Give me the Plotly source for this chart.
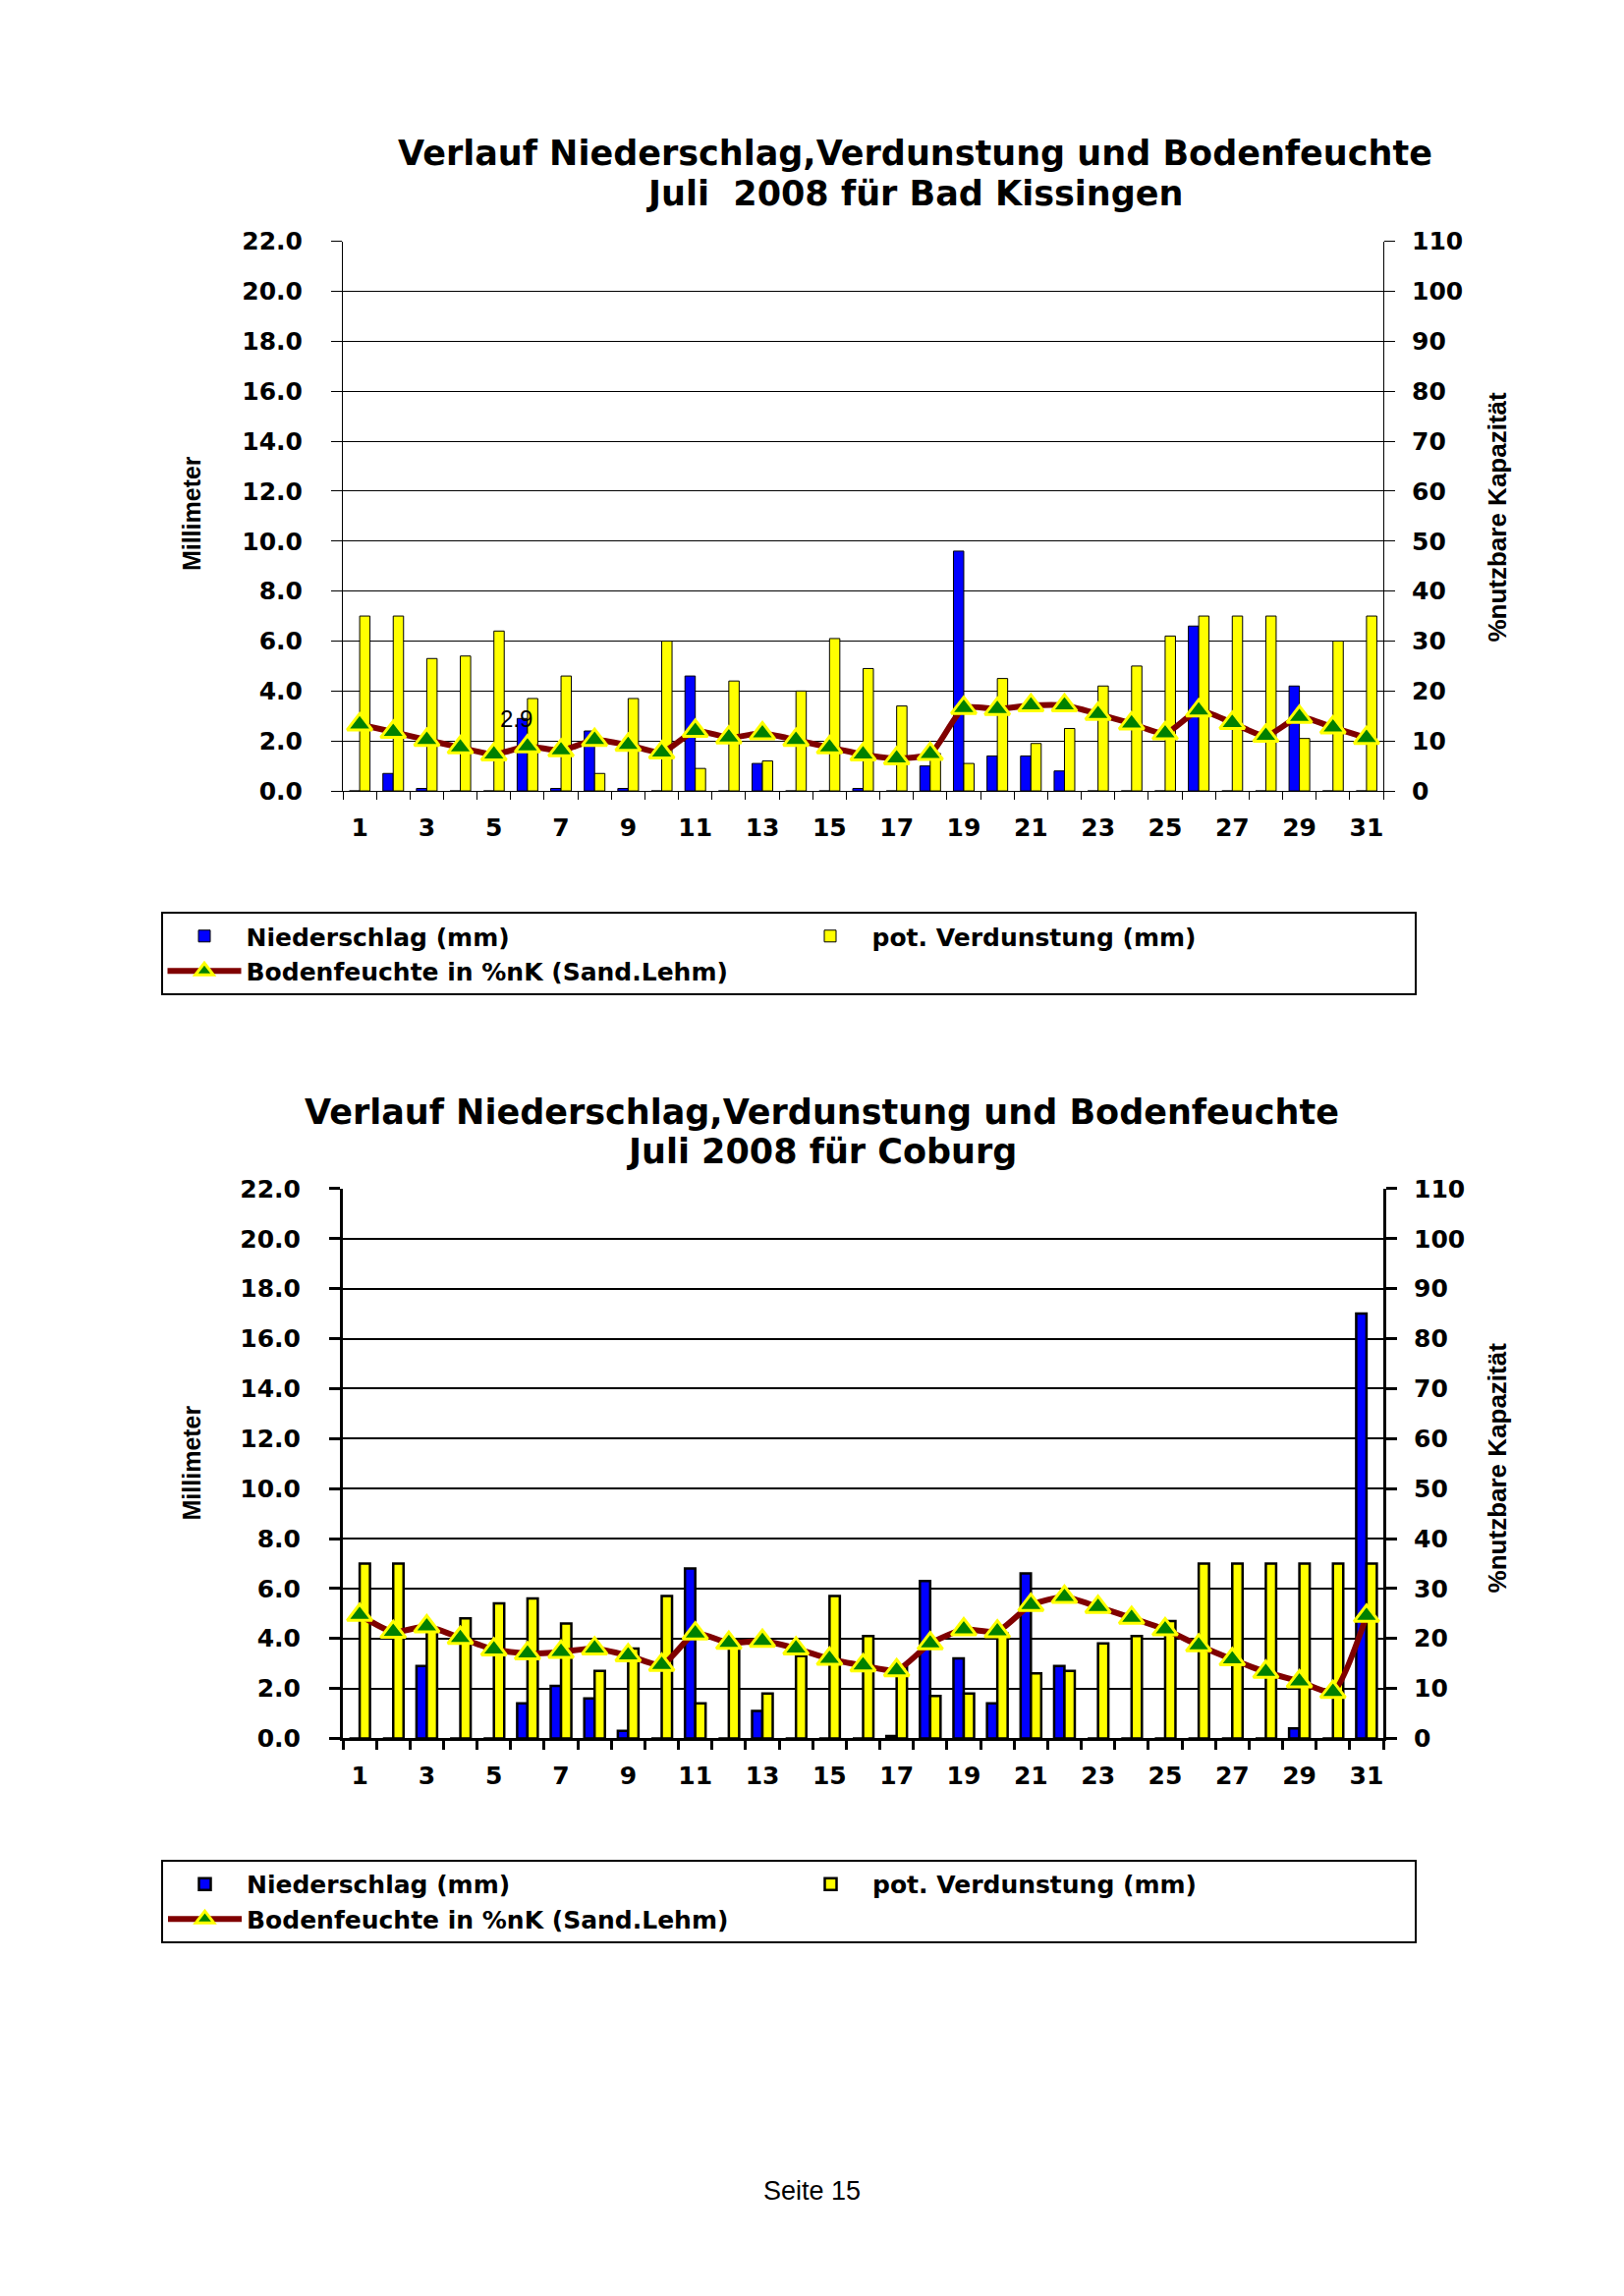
import plotly.graph_objects as go

# ---------------- data ----------------
days = list(range(1, 32))
tick_days = list(range(1, 32, 2))
tick_labels = [str(d) for d in tick_days]
boundaries = [d + 0.5 for d in range(0, 32)]
mm_ticks = list(range(0, 23, 2))
mm_labels = [f"{v:.1f}" for v in mm_ticks]
pct_ticks = list(range(0, 111, 10))
pct_labels = [str(v) for v in pct_ticks]

# Bad Kissingen
bk_nieder = [0, 0.7, 0.1, 0, 0, 2.9, 0.1, 2.4, 0.1, 0, 4.6, 0, 1.1, 0, 0, 0.1,
             0, 1.0, 9.6, 1.4, 1.4, 0.8, 0, 0, 0, 6.6, 0, 0, 4.2, 0, 0]
bk_verd = [7.0, 7.0, 5.3, 5.4, 6.4, 3.7, 4.6, 0.7, 3.7, 6.0, 0.9, 4.4, 1.2, 4.0, 6.1, 4.9,
           3.4, 1.5, 1.1, 4.5, 1.9, 2.5, 4.2, 5.0, 6.2, 7.0, 7.0, 7.0, 2.1, 6.0, 7.0]
bk_boden = [13.3, 11.8, 10.2, 8.7, 7.3, 8.9, 8.1, 10.2, 9.2, 7.7, 12.0, 10.7, 11.5, 10.2, 8.7, 7.3,
            6.5, 7.4, 16.6, 16.4, 17.1, 17.1, 15.4, 13.5, 11.5, 16.1, 13.6, 11.0, 14.8, 12.7, 10.6]
bk_label_day = 6
bk_label_text = "2.9"

# Coburg
co_nieder = [0, 0, 2.9, 0, 0, 1.4, 2.1, 1.6, 0.3, 0, 6.8, 0, 1.1, 0, 0, 0,
             0.1, 6.3, 3.2, 1.4, 6.6, 2.9, 0, 0, 0, 0, 0, 0, 0.4, 0, 17.0]
co_verd = [7.0, 7.0, 4.3, 4.8, 5.4, 5.6, 4.6, 2.7, 3.6, 5.7, 1.4, 3.8, 1.8, 3.3, 5.7, 4.1,
           2.9, 1.7, 1.8, 4.2, 2.6, 2.7, 3.8, 4.1, 4.7, 7.0, 7.0, 7.0, 7.0, 7.0, 7.0]
co_boden = [24.7, 21.3, 22.4, 20.1, 17.8, 17.0, 17.3, 18.0, 16.6, 14.7, 21.0, 19.1, 19.5, 18.0, 15.9, 14.6,
            13.6, 19.0, 21.8, 21.4, 26.7, 28.3, 26.3, 24.1, 21.8, 18.6, 15.8, 13.3, 11.4, 9.3, 24.5]

name_n = "Niederschlag (mm)"
name_v = "pot. Verdunstung (mm)"
name_b = "Bodenfeuchte in %nK (Sand.Lehm)"

# ---------------- layout helpers ----------------
W, H = 1653, 2337
def px(x):
    return x / W
def py(y):
    return 1 - y / H

BLUE = "#0000FF"
YELLOW = "#FFFF00"
DARKRED = "#800000"
GREEN = "#008000"
TICKFONT = dict(family="DejaVu Sans", size=25, color="black", weight="bold")
LEGFONT = dict(family="DejaVu Sans", size=25, color="black", weight="bold")

fig = go.Figure()

def add_chart(nieder, verd, boden, xa, ya, ya2, legend, olw):
    fig.add_trace(go.Bar(x=days, y=nieder, name=name_n, xaxis=xa, yaxis=ya, legend=legend,
                         marker=dict(color=BLUE, line=dict(color="black", width=olw))))
    fig.add_trace(go.Bar(x=days, y=verd, name=name_v, xaxis=xa, yaxis=ya, legend=legend,
                         marker=dict(color=YELLOW, line=dict(color="black", width=olw))))
    fig.add_trace(go.Scatter(x=days, y=boden, name=name_b, xaxis=xa, yaxis=ya2, legend=legend,
                             mode="lines+markers",
                             line=dict(color=DARKRED, width=6, shape="spline", smoothing=0.6),
                             marker=dict(symbol="triangle-up", size=22, color=GREEN,
                                         line=dict(color=YELLOW, width=3))))

add_chart(bk_nieder, bk_verd, bk_boden, "x", "y", "y2", "legend", 1)
add_chart(co_nieder, co_verd, co_boden, "x2", "y3", "y4", "legend2", 2.5)

xdom = [px(349), px(1408)]
top_dom = [py(801), py(234.5)]
bot_dom = [py(1777.5), py(1211)]

def xaxis_cfg(anchor, lw, tl, standoff):
    return dict(domain=xdom, anchor=anchor, range=[0.5, 31.5], tickmode="array",
                tickvals=tick_days, ticktext=tick_labels, ticks="", showgrid=False,
                showline=True, linecolor="black", linewidth=lw, zeroline=False,
                tickfont=TICKFONT, ticklabelstandoff=standoff,
                minor=dict(tickmode="array", tickvals=boundaries, ticks="outside",
                           ticklen=tl, tickwidth=lw, tickcolor="black", showgrid=False))

def xinside_cfg(over, anchor, lw, tl):
    # companion axis: the inner half of the crossing day ticks
    return dict(overlaying=over, anchor=anchor, domain=xdom, range=[0.5, 31.5],
                tickmode="array", tickvals=boundaries, ticks="inside", ticklen=tl,
                tickwidth=lw, tickcolor="black", showticklabels=False, showline=False,
                showgrid=False, zeroline=False)

def yleft_cfg(dom, anchor, lw, gw):
    return dict(domain=dom, anchor=anchor, range=[0, 22], tickmode="array",
                tickvals=mm_ticks, ticktext=mm_labels, ticks="outside", ticklen=11,
                tickwidth=lw, tickcolor="black", showline=True, linecolor="black",
                linewidth=lw, showgrid=True, gridcolor="black", gridwidth=gw,
                zeroline=False, tickfont=TICKFONT, ticklabelstandoff=24)

def yright_cfg(over, anchor, lw):
    return dict(overlaying=over, anchor=anchor, side="right", range=[0, 110], tickmode="array",
                tickvals=pct_ticks, ticktext=pct_labels, ticks="outside", ticklen=11,
                tickwidth=lw, tickcolor="black", showline=True, linecolor="black",
                linewidth=lw, showgrid=False, zeroline=False, tickfont=TICKFONT,
                ticklabelstandoff=12)

def yinside_cfg(over, anchor, side, rng, vals, lw):
    return dict(overlaying=over, anchor=anchor, side=side, range=rng, tickmode="array",
                tickvals=vals, ticks="inside", ticklen=11, tickwidth=lw, tickcolor="black",
                showticklabels=False, showline=False, showgrid=False, zeroline=False)

def legend_cfg(x0, y0):
    return dict(x=px(x0), y=py(y0), xanchor="left", yanchor="top", orientation="h",
                entrywidth=547, entrywidthmode="pixels", itemwidth=75,
                bordercolor="black", borderwidth=2, bgcolor="white", font=LEGFONT,
                traceorder="normal")

annotations = []
def title(lines, xc, ys):
    for t, y in zip(lines, ys):
        annotations.append(dict(text=t, x=px(xc), y=py(y), xref="paper", yref="paper",
                                xanchor="center", yanchor="middle", showarrow=False,
                                font=dict(family="DejaVu Sans", size=35, color="black",
                                          weight="bold")))

title(["Verlauf Niederschlag,Verdunstung und Bodenfeuchte", "Juli  2008 für Bad Kissingen"],
      931, [144, 185])
title(["Verlauf Niederschlag,Verdunstung und Bodenfeuchte", "Juli 2008 für Coburg"],
      836, [1132, 1173])

AXL = dict(family="Liberation Sans", size=25, color="black", weight="bold")
AXR = dict(family="Liberation Sans", size=26, color="black", weight="bold")
for yc_l, yc_r in [(515.5, 519), (1494, 1499)]:
    annotations.append(dict(text="Millimeter", x=px(195), y=py(yc_l), xref="paper", yref="paper",
                            textangle=-90, showarrow=False, xanchor="center", yanchor="middle",
                            font=AXL))
    annotations.append(dict(text="%nutzbare Kapazität", x=px(1524), y=py(yc_r), xref="paper",
                            yref="paper", textangle=-90, showarrow=False, xanchor="center",
                            yanchor="middle", font=AXR))

annotations.append(dict(text=bk_label_text, x=bk_label_day, y=bk_nieder[bk_label_day - 1],
                        xref="x", yref="y", xshift=-11, showarrow=False, xanchor="center",
                        yanchor="middle",
                        font=dict(family="Liberation Sans", size=24, color="black")))

annotations.append(dict(text="Seite 15", x=px(826), y=py(2244), xref="paper", yref="paper",
                        showarrow=False, xanchor="center", yanchor="middle",
                        font=dict(family="Liberation Sans", size=27, color="black")))

fig.update_layout(
    width=W, height=H, autosize=False,
    margin=dict(l=0, r=0, t=0, b=0, pad=0),
    paper_bgcolor="white", plot_bgcolor="white",
    barmode="group", bargap=0.385, bargroupgap=0,
    xaxis=xaxis_cfg("y", 1, 8, 15),
    yaxis=yleft_cfg(top_dom, "x", 1, 1),
    yaxis2=yright_cfg("y", "x", 1),
    xaxis2=xaxis_cfg("y3", 3, 9, 14),
    yaxis3=yleft_cfg(bot_dom, "x2", 3, 1.5),
    yaxis4=yright_cfg("y3", "x2", 3),
    xaxis3=xinside_cfg("x", "y", 1, 8),
    xaxis4=xinside_cfg("x2", "y3", 3, 9),
    yaxis5=yinside_cfg("y", "x", "right", [0, 110], pct_ticks, 1),
    yaxis6=yinside_cfg("y3", "x2", "left", [0, 22], mm_ticks, 3),
    yaxis7=yinside_cfg("y3", "x2", "right", [0, 110], pct_ticks, 3),
    legend=legend_cfg(163.5, 925.5),
    legend2=legend_cfg(164, 1902.5),
    annotations=annotations,
    showlegend=True,
)

fig.write_html("out.html", config={"displayModeBar": False},
               post_script="document.body.style.margin='0';")
